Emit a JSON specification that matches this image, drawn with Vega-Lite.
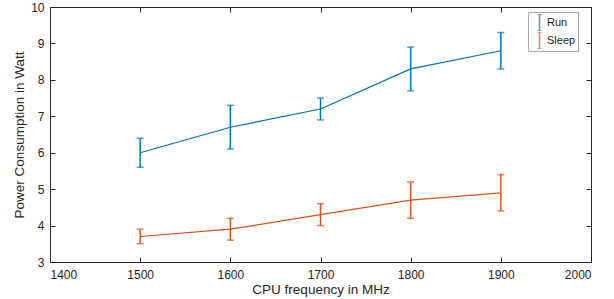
{
  "$schema": "https://vega.github.io/schema/vega-lite/v6.json",
  "width": 541,
  "height": 255,
  "autosize": "none",
  "padding": {"left": 50, "top": 7, "right": 23, "bottom": 37},
  "background": "white",
  "config": {
    "view": {"stroke": "#262626", "strokeWidth": 1},
    "font": "Liberation Sans",
    "axis": {
      "domain": false,
      "grid": false,
      "tickColor": "#262626",
      "tickSize": -5,
      "tickWidth": 1,
      "labelColor": "#262626",
      "labelFontSize": 12,
      "labelFont": "Liberation Sans",
      "titleColor": "#262626",
      "titleFont": "Liberation Sans",
      "titleFontSize": 13.5,
      "titleFontWeight": "normal"
    }
  },
  "data": {
    "values": [
      {"freq": 1500, "series": "Run", "mean": 6.0, "lo": 5.6, "hi": 6.4},
      {"freq": 1600, "series": "Run", "mean": 6.7, "lo": 6.1, "hi": 7.3},
      {"freq": 1700, "series": "Run", "mean": 7.2, "lo": 6.9, "hi": 7.5},
      {"freq": 1800, "series": "Run", "mean": 8.3, "lo": 7.7, "hi": 8.9},
      {"freq": 1900, "series": "Run", "mean": 8.8, "lo": 8.3, "hi": 9.3},
      {"freq": 1500, "series": "Sleep", "mean": 3.7, "lo": 3.5, "hi": 3.9},
      {"freq": 1600, "series": "Sleep", "mean": 3.9, "lo": 3.6, "hi": 4.2},
      {"freq": 1700, "series": "Sleep", "mean": 4.3, "lo": 4.0, "hi": 4.6},
      {"freq": 1800, "series": "Sleep", "mean": 4.7, "lo": 4.2, "hi": 5.2},
      {"freq": 1900, "series": "Sleep", "mean": 4.9, "lo": 4.4, "hi": 5.4}
    ]
  },
  "resolve": {"axis": {"x": "independent", "y": "independent"}},
  "layer": [
    {
      "mark": {"type": "line", "strokeWidth": 1.2},
      "encoding": {
        "x": {"field": "freq", "type": "quantitative",
              "scale": {"domain": [1400, 2000], "nice": false, "zero": false},
              "axis": {"orient": "bottom", "values": [1400,1500,1600,1700,1800,1900,2000], "format": "d", "labelPadding": 12, "title": "CPU frequency in MHz", "titlePadding": 2}},
        "y": {"field": "mean", "type": "quantitative",
              "scale": {"domain": [3, 10], "nice": false, "zero": false},
              "axis": {"orient": "left", "values": [3,4,5,6,7,8,9,10], "labelPadding": 11, "title": "Power Consumption in Watt", "titlePadding": 4}},
        "color": {"field": "series", "type": "nominal",
                  "scale": {"domain": ["Run", "Sleep"], "range": ["#0072BD", "#D95319"]},
                  "legend": {
                    "title": null,
                    "orient": "none",
                    "legendX": 478,
                    "legendY": 5,
                    "padding": 2,
                    "strokeColor": "#aaaaaa",
                    "fillColor": "white",
                    "symbolType": "M0,-1L0,1M-0.25,-1L0.25,-1M-0.25,1L0.25,1",
                    "symbolSize": 289,
                    "symbolStrokeWidth": 1.5,
                    "labelFontSize": 11,
                    "labelColor": "#262626",
                    "labelFont": "Liberation Sans",
                    "clipHeight": 17,
                    "rowPadding": 1,
                    "labelOffset": -2
                  }}
      }
    },
    {
      "mark": {"type": "rule", "strokeWidth": 1.5},
      "encoding": {
        "x": {"field": "freq", "type": "quantitative",
              "axis": {"orient": "top", "values": [1400,1500,1600,1700,1800,1900,2000], "labels": false, "title": null}},
        "y": {"field": "lo", "type": "quantitative",
              "axis": {"orient": "right", "values": [3,4,5,6,7,8,9,10], "labels": false, "title": null}},
        "y2": {"field": "hi"},
        "color": {"field": "series", "type": "nominal"}
      }
    },
    {
      "mark": {"type": "tick", "orient": "horizontal", "thickness": 1.5, "size": 7},
      "encoding": {
        "x": {"field": "freq", "type": "quantitative", "axis": null},
        "y": {"field": "lo", "type": "quantitative", "axis": null},
        "color": {"field": "series", "type": "nominal"}
      }
    },
    {
      "mark": {"type": "tick", "orient": "horizontal", "thickness": 1.5, "size": 7},
      "encoding": {
        "x": {"field": "freq", "type": "quantitative", "axis": null},
        "y": {"field": "hi", "type": "quantitative", "axis": null},
        "color": {"field": "series", "type": "nominal"}
      }
    }
  ]
}
